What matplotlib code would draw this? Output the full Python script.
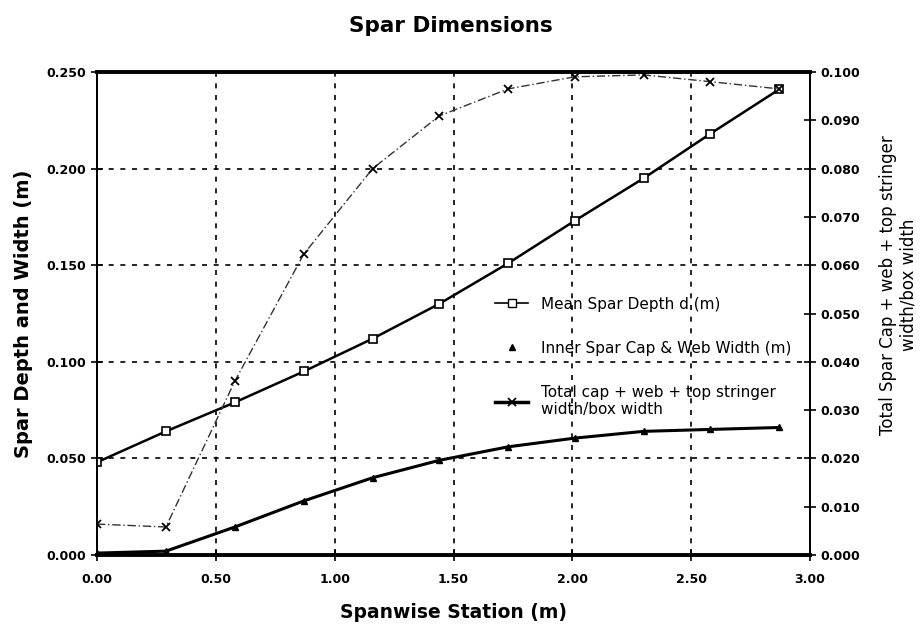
import matplotlib.pyplot as plt
from matplotlib.lines import Line2D
import numpy as np

# stasiun sepanjang sayap (m)
station = [0.0, 0.29, 0.58, 0.87, 1.16, 1.44, 1.73, 2.01, 2.30, 2.58, 2.87]

# sumbu kiri
mean_depth = [0.048, 0.064, 0.079, 0.095, 0.112, 0.130, 0.151, 0.173, 0.195, 0.218, 0.241]
inner_width = [0.001, 0.002, 0.0145, 0.028, 0.040, 0.049, 0.056, 0.0605, 0.064, 0.065, 0.066]

# sumbu kanan
total_ratio = [0.0064, 0.0058, 0.036, 0.0623, 0.080, 0.0909, 0.0965, 0.099, 0.0994, 0.098, 0.0965]

x_ticks = [0.0, 0.5, 1.0, 1.5, 2.0, 2.5, 3.0]
left_ticks = [0.0, 0.05, 0.10, 0.15, 0.20, 0.25]
right_ticks = np.round(np.arange(0, 0.101, 0.01), 3)

plt.rcParams['font.family'] = ['DejaVu Sans']

fig = plt.figure(figsize=(9.21, 6.26), dpi=100)
ax = fig.add_axes([0.1053, 0.1134, 0.7742, 0.7716])
ax2 = ax.twinx()

ax.plot(station, mean_depth, color='black', lw=1.8, marker='s', ms=6,
        mfc='white', mec='black', mew=1.2, zorder=3)
ax.plot(station, inner_width, color='black', lw=2.2, marker='^', ms=5,
        mfc='black', zorder=3)
ax2.plot(station, total_ratio, color='#333333', lw=1.0, ls=(0, (6, 2, 1, 2)),
         marker='x', ms=6, mew=1.3, mec='black', zorder=3)

ax.set_xlim(0, 3.0)
ax.set_ylim(0, 0.25)
ax2.set_ylim(0, 0.1)

ax.set_xticks(x_ticks)
ax.set_xticklabels(['%.2f' % v for v in x_ticks])
ax.set_yticks(left_ticks)
ax.set_yticklabels(['%.3f' % v for v in left_ticks])
ax2.set_yticks(right_ticks)
ax2.set_yticklabels(['%.3f' % v for v in right_ticks])

ax.grid(True, color='black', ls=(0, (3, 4)), lw=1.2)

for a in (ax, ax2):
    a.tick_params(direction='inout', length=8, width=1.2, labelsize=9)
    for lab in a.get_xticklabels() + a.get_yticklabels():
        lab.set_fontweight('bold')
    for s in a.spines.values():
        s.set_linewidth(1.3)
ax.tick_params(axis='x', pad=9)
ax.spines['top'].set_linewidth(2.8)
ax.spines['bottom'].set_linewidth(2.8)

fig.suptitle('Spar Dimensions', x=0.49, y=0.975, fontsize=15.5, fontweight='bold')
ax.set_xlabel('Spanwise Station (m)', fontsize=13.5, fontweight='bold', labelpad=12)
ax.set_ylabel('Spar Depth and Width (m)', fontsize=14, fontweight='bold', labelpad=10)
fig.text(0.975, 0.545, 'Total Spar Cap + web + top stringer\nwidth/box width',
         rotation=90, ha='center', va='center', multialignment='center', fontsize=12)

handles = [
    Line2D([], [], color='black', lw=1.2, marker='s', ms=6, mfc='white', mec='black'),
    Line2D([], [], color='none', marker='^', ms=5, mfc='black', mec='black'),
    Line2D([], [], color='black', lw=2.5, marker='x', ms=6, mew=1.3),
]
labels = ['Mean Spar Depth d (m)', 'Inner Spar Cap & Web Width (m)',
          'Total cap + web + top stringer\nwidth/box width']
leg = ax2.legend(handles, labels, loc='upper left', bbox_to_anchor=(0.558, 0.535),
                 frameon=False, fontsize=11, labelspacing=1.9, handlelength=2.2,
                 borderpad=0, borderaxespad=0)

fig.savefig('out.png', dpi=100)
